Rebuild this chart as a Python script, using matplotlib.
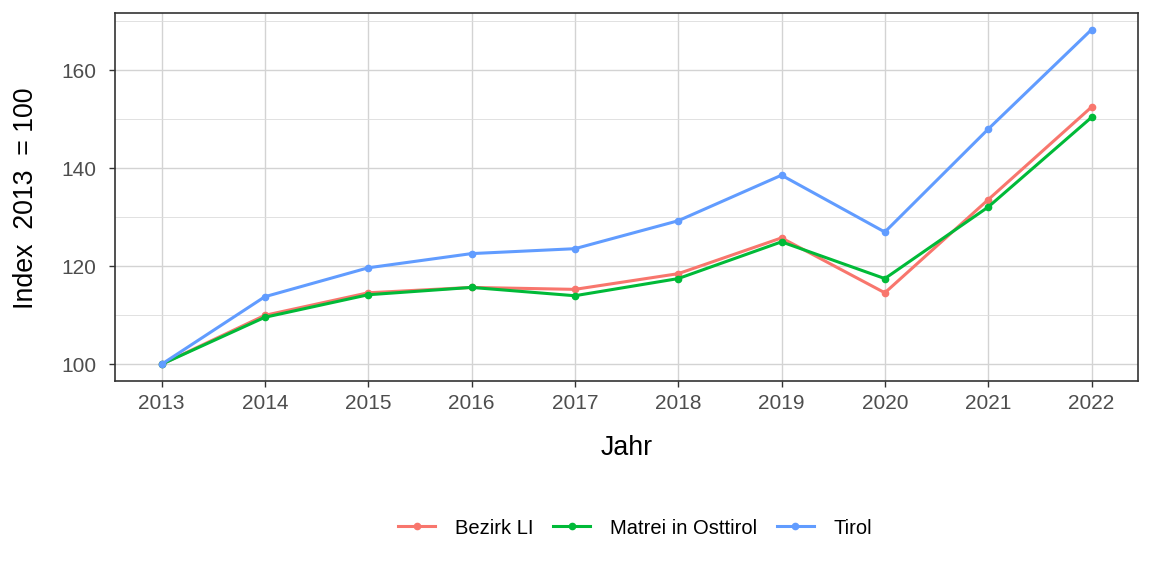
import matplotlib
matplotlib.use("Agg")
import matplotlib.pyplot as plt
from matplotlib.ticker import MultipleLocator

plt.rcParams['font.family'] = ['Liberation Sans', 'DejaVu Sans']

years = [2013, 2014, 2015, 2016, 2017, 2018, 2019, 2020, 2021, 2022]
bezirk_li = [100, 110.0, 114.6, 115.7, 115.3, 118.5, 125.8, 114.6, 133.6, 152.5]
matrei = [100, 109.6, 114.2, 115.7, 114.0, 117.5, 125.0, 117.5, 132.1, 150.4]
tirol = [100, 113.8, 119.7, 122.6, 123.6, 129.3, 138.6, 127.0, 148.0, 168.3]

series_names = ["Bezirk LI", "Matrei in Osttirol", "Tirol"]
series_values = [bezirk_li, matrei, tirol]
colors = ["#F8766D", "#00BA38", "#619CFF"]

W, H = 1152, 576
fig = plt.figure(figsize=(W/100, H/100), dpi=100)
ax = fig.add_axes([115/W, 1 - 381/H, (1138-115)/W, (381-13)/H])

for name, vals, c in zip(series_names, series_values, colors):
    ax.plot(years, vals, color=c, lw=2.2, marker='o', ms=4.5, label=name, zorder=3)

ax.set_xlim(2012.55, 2022.45)
ax.set_ylim(96.6, 171.7)
ax.set_xticks(years)
ax.set_xticklabels([str(y) for y in years])
ax.yaxis.set_major_locator(MultipleLocator(20))
ax.yaxis.set_minor_locator(MultipleLocator(10))
ax.grid(True, which='major', color='#D3D3D3', lw=1.0, zorder=0)
ax.grid(True, which='minor', axis='y', color='#DCDCDC', lw=0.6, zorder=0)
ax.set_axisbelow(True)
for s in ax.spines.values():
    s.set_color('#333333')
    s.set_linewidth(1.2)
ax.tick_params(axis='both', which='major', colors='#333333', labelcolor='#4D4D4D',
               labelsize=15, length=4.3, width=1.0)
ax.tick_params(axis='y', which='major', pad=9)
ax.tick_params(axis='x', which='major', pad=5)
ax.tick_params(axis='y', which='minor', length=0)

fig.text(627/W, 1 - 448/H, "Jahr", fontsize=19.3, ha='center', va='center')
fig.text(26/W, 1 - 198/H, "Index  2013  = 100", fontsize=19.3, ha='center', va='center',
         rotation=90)

fig.legend(loc='center', bbox_to_anchor=(635/W, 1 - 528/H), ncol=3, frameon=False,
           fontsize=14.5, handlelength=1.85, columnspacing=1.0, handletextpad=0.95)

fig.savefig("out.png", dpi=100)
